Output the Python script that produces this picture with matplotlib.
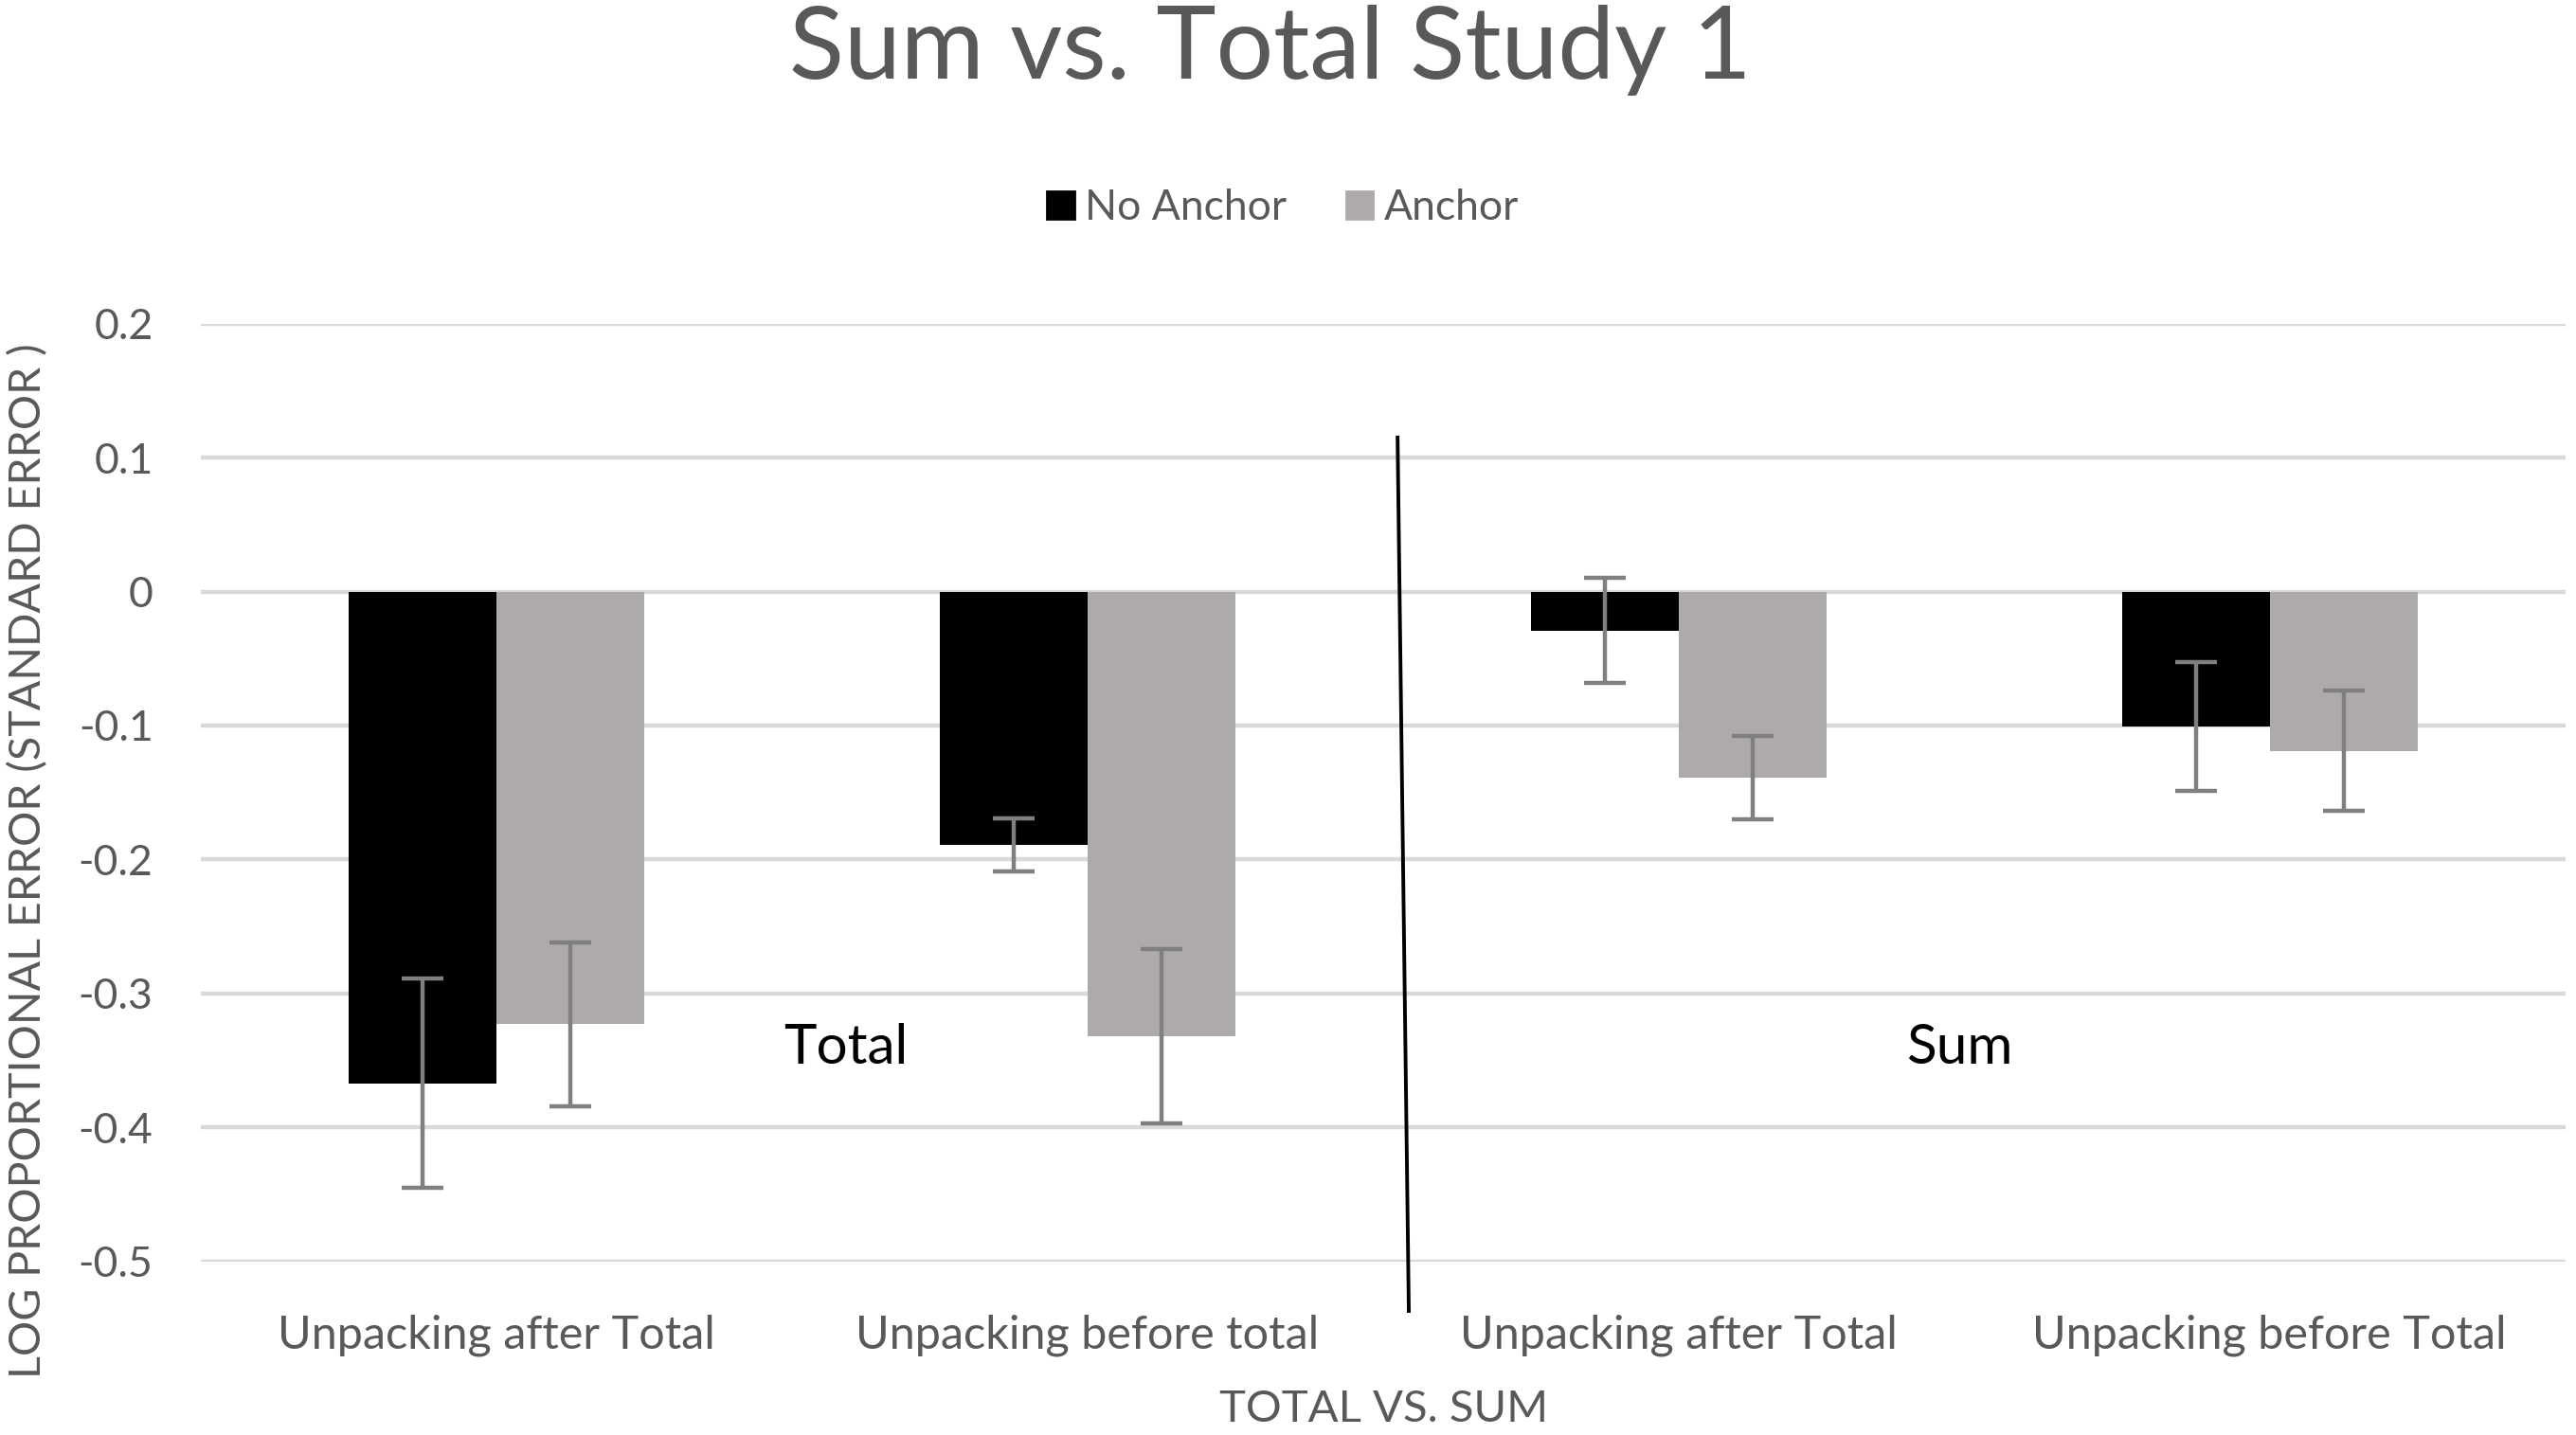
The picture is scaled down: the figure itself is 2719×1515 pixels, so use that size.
import numpy as np
import matplotlib.pyplot as plt
from matplotlib.patches import Patch

plt.rcParams['font.family'] = ['Lato', 'DejaVu Sans']

# data
categories = ['Unpacking after Total', 'Unpacking before total',
              'Unpacking after Total', 'Unpacking before Total']
no_anchor = [-0.367, -0.189, -0.029, -0.101]
no_anchor_err = [0.078, 0.020, 0.039, 0.048]
anchor = [-0.323, -0.332, -0.139, -0.119]
anchor_err = [0.061, 0.065, 0.031, 0.045]
yticks = [0.2, 0.1, 0, -0.1, -0.2, -0.3, -0.4, -0.5]

# separator line and group labels (data coords)
sep_x = [1.525, 1.544]
sep_y = [0.115, -0.537]
group_labels = ['Total', 'Sum']
group_label_x = [0.592, 2.475]
group_label_y = -0.341

txt_col = '#595959'
gray = '#aeaaaa'
err_col = '#7f7f7f'

fig = plt.figure(figsize=(13.595, 7.575), dpi=200)
ax = fig.add_axes([0.0778, 0.121, 0.918, 0.6535])

x = np.arange(len(categories))
w = 0.25
ekw = dict(ecolor=err_col, elinewidth=1.6, capsize=8, capthick=1.6)
ax.bar(x - w / 2, no_anchor, w, color='black', yerr=no_anchor_err, error_kw=ekw, zorder=2)
ax.bar(x + w / 2, anchor, w, color=gray, yerr=anchor_err, error_kw=ekw, zorder=2)

ax.set_xlim(-0.5, 3.5)
ax.set_ylim(-0.5, 0.2)
ax.set_yticks(yticks)
ax.set_yticklabels([f'{v:g}' for v in yticks])
ax.set_xticks(x)
ax.set_xticklabels(categories, fontsize=17.5)
ax.tick_params(axis='both', length=0, colors=txt_col)
ax.tick_params(axis='y', pad=18, labelsize=16)
ax.tick_params(axis='x', pad=20)
ax.grid(axis='y', color='#d9d9d9', linewidth=1.6, zorder=0)
ax.set_axisbelow(True)
for s in ax.spines.values():
    s.set_visible(False)

ax.plot(sep_x, sep_y, color='black', linewidth=1.4, clip_on=False, zorder=3)
for lab, lx in zip(group_labels, group_label_x):
    ax.text(lx, group_label_y, lab, fontsize=21, color='black', ha='center', va='center')

fig.text(0.493, 0.965, 'Sum vs. Total Study 1', fontsize=38.5, color=txt_col,
         ha='center', va='center')
fig.text(0.537, 0.018, 'TOTAL VS. SUM', fontsize=17, color=txt_col,
         ha='center', va='center')
fig.text(0.011, 0.40, 'LOG PROPORTIONAL ERROR (STANDARD ERROR )', fontsize=16.8,
         color=txt_col, ha='center', va='center', rotation=90)

handles = [Patch(color='black', label='No Anchor'), Patch(color=gray, label='Anchor')]
leg = fig.legend(handles=handles, loc='center', bbox_to_anchor=(0.498, 0.855), ncol=2,
                 frameon=False, fontsize=16, handlelength=0.65, handleheight=0.65,
                 handletextpad=0.25, columnspacing=1.4)
for t in leg.get_texts():
    t.set_color(txt_col)

fig.savefig('out.png', dpi=200)
